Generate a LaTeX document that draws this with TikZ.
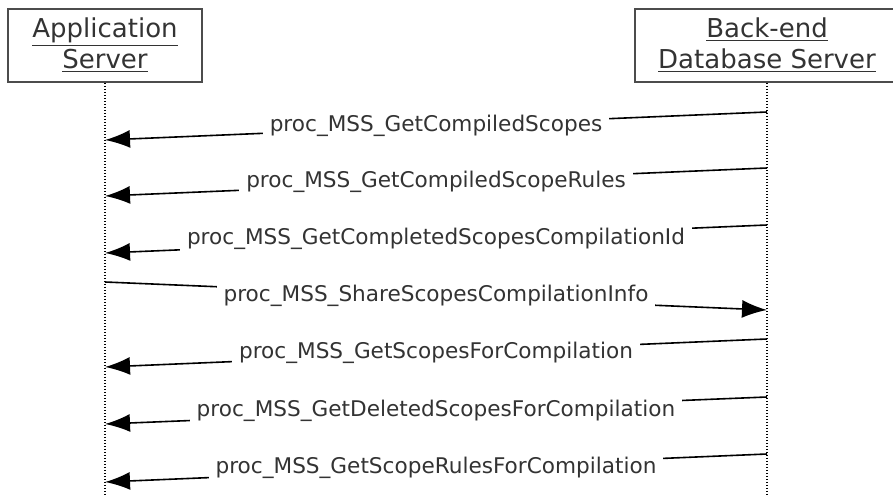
\documentclass[tikz,border=0pt]{standalone}
\usepackage{fontspec}
\setmainfont{DejaVu Sans}
\usetikzlibrary{arrows.meta}
\begin{document}
\begin{tikzpicture}[x=0.5pt,y=-0.5pt]
			\tikzstyle{server}=[draw=black!70,line width=0.8pt,minimum height=36.5pt,inner sep=0pt,align=center,text=black!80,font=\fontsize{13}{15.5}\selectfont]
			\tikzstyle{lifeline}=[line width=0.6pt,dash pattern=on 0.5pt off 1pt]
			\tikzstyle{msg}=[line width=0.8pt,-{Latex[length=12.5pt,width=9pt]}]
			\tikzstyle{msglabel}=[fill=white,inner sep=3.5pt,text=black!80,font=\fontsize{10.8}{13}\selectfont]
			\clip (0,0) rectangle (893,497);
			\node[server,minimum width=97pt] (app) at (105,45.5) {\underline{Application}\\\underline{Server}};
			\node[server,minimum width=132pt] (db) at (767,45.5) {\underline{Back-end}\\\underline{Database Server}};
			\coordinate (append) at (105,497);
			\coordinate (dbend) at (767,497);
			\draw[lifeline] (app.south) -- (append);
			\draw[lifeline] (db.south) -- (dbend);
			% calls from the database server
			\foreach \i/\ya/\yb/\txt in {1/112/140/GetCompiledScopes,
					2/168/196/GetCompiledScopeRules,
					3/225/253/GetCompletedScopesCompilationId,
					5/339/367/GetScopesForCompilation,
					6/397/424/GetDeletedScopesForCompilation,
					7/454/482/GetScopeRulesForCompilation}{
				\coordinate (db\i) at (767,\ya);
				\coordinate (app\i) at (105,\yb);
				\draw[msg] (db\i) -- node[msglabel]{proc\_MSS\_\txt} (app\i);
			}
			% call to the database server
			\coordinate (app4) at (105,282);
			\coordinate (db4) at (767,310);
			\draw[msg] (app4) -- node[msglabel]{proc\_MSS\_ShareScopesCompilationInfo} (db4);
		\end{tikzpicture}
\end{document}
